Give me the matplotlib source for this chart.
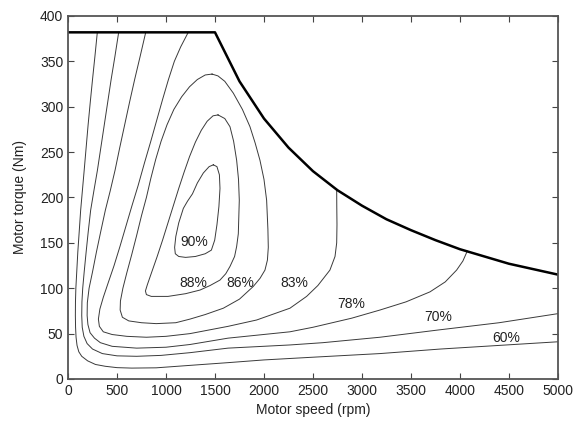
import numpy as np
import matplotlib
matplotlib.use("Agg")
import matplotlib.pyplot as plt

plt.rcParams['font.family'] = ['Liberation Sans', 'DejaVu Sans']

# torque envelope (constant torque, then constant power)
env_speed = [0, 1500, 1750, 2000, 2250, 2500, 2750, 3000, 3250, 3500, 3750, 4000, 4250, 4500, 4750, 5000]
env_torque = [382, 382, 328, 287, 255, 229, 208, 191, 176, 164, 153, 143, 135, 127, 121, 115]

# efficiency contours, (speed rpm, torque Nm)
c60 = [(299, 382), (275, 356), (250, 330), (227, 305), (205, 280), (185, 255), (165, 230), (147, 208),
       (129, 186), (114, 162), (100, 140), (89, 118), (80, 100), (76, 85), (75, 70), (77, 57),
       (82, 46), (92, 37), (110, 30), (140, 25), (200, 20), (280, 16), (380, 14), (500, 12.5),
       (650, 12), (900, 12.3), (1245, 15), (1633, 18), (2000, 21), (2500, 24), (3184, 28),
       (3800, 33), (4400, 37), (5000, 41)]
c70 = [(517, 382), (478, 355), (440, 330), (405, 305), (370, 280), (335, 255), (300, 230), (265, 208),
       (231, 186), (206, 162), (185, 140), (165, 118), (150, 100), (142, 85), (140, 70), (145, 57),
       (162, 47), (195, 39), (250, 33), (350, 28), (500, 25.5), (700, 25), (950, 26), (1245, 29),
       (1633, 34), (2265, 37.5), (2600, 40), (3184, 46), (3779, 54), (4400, 62), (5000, 72)]
c78 = [(793, 382), (735, 355), (680, 330), (628, 305), (578, 280), (528, 255), (480, 230),
       (430, 207), (381, 186), (335, 163), (290, 140), (250, 118), (215, 100), (197, 84), (195, 70),
       (203, 60), (225, 51), (270, 45), (330, 40), (450, 36), (700, 34), (1000, 35), (1245, 38),
       (1633, 45), (2265, 52), (2500, 57), (2895, 67), (3184, 76), (3450, 85), (3694, 96),
       (3850, 107), (3966, 120), (4030, 130), (4075, 141)]
c83 = [(1227, 382), (1150, 366), (1085, 350), (1025, 330), (965, 308), (905, 285), (845, 262),
       (780, 238), (715, 213), (650, 190), (590, 168), (530, 146), (470, 125), (410, 106),
       (360, 90), (325, 77), (310, 66), (320, 58), (360, 52), (450, 49), (600, 47), (800, 46),
       (1000, 47), (1245, 50), (1633, 58), (1925, 65), (2265, 78), (2435, 91), (2550, 103),
       (2673, 120), (2725, 135), (2742, 150), (2745, 170), (2743, 190), (2742, 209)]
c86 = [(1470, 336), (1400, 335), (1320, 330), (1240, 322), (1160, 311), (1080, 297), (1010, 280),
       (950, 262), (895, 242), (845, 221), (800, 200), (750, 180), (700, 158), (650, 137),
       (600, 117), (560, 100), (535, 86), (532, 76), (555, 68), (620, 64), (750, 62), (900, 61),
       (1100, 62), (1245, 66), (1400, 71), (1585, 78), (1750, 88), (1891, 102), (1960, 111),
       (2010, 120), (2035, 131), (2044, 145), (2040, 165), (2027, 197), (2000, 220), (1959, 241),
       (1910, 260), (1857, 278), (1780, 297), (1687, 315), (1600, 328), (1530, 334), (1470, 336)]
c88 = [(1531, 291), (1480, 290), (1420, 284), (1360, 274), (1300, 261), (1240, 245), (1185, 228),
       (1130, 210), (1075, 191), (1020, 172), (965, 153), (910, 135), (855, 118), (810, 104),
       (790, 97), (800, 93), (850, 91), (1020, 91), (1200, 94), (1347, 98), (1450, 103),
       (1551, 109), (1610, 116), (1653, 124), (1700, 135), (1721, 146), (1738, 160), (1748, 197),
       (1740, 220), (1721, 241), (1690, 262), (1653, 278), (1600, 287), (1531, 291)]
c90 = [(1483, 236), (1440, 234), (1381, 227), (1320, 216), (1270, 204), (1220, 196), (1177, 188),
       (1130, 172), (1100, 157), (1088, 145), (1095, 138), (1130, 135), (1200, 134), (1300, 135),
       (1400, 138), (1463, 142), (1497, 153), (1520, 170), (1540, 190), (1551, 210), (1545, 225),
       (1520, 234), (1483, 236)]
contours = [c60, c70, c78, c83, c86, c88, c90]

labels = ["90%", "88%", "86%", "83%", "78%", "70%", "60%"]
label_speed = [1286, 1276, 1755, 2306, 2895, 3779, 4476]
label_torque = [151, 106, 106, 106, 83, 68, 45]

fig = plt.figure(figsize=(5.74, 4.21), dpi=100)
ax = fig.add_axes([0.1185, 0.0998, 0.8535, 0.8622])

for c in contours:
    xs, ys = zip(*c)
    ax.plot(xs, ys, color="#3a3a3a", lw=0.7)

ax.plot(env_speed, env_torque, color="black", lw=1.8)

for lab, sx, ty in zip(labels, label_speed, label_torque):
    ax.text(sx, ty, lab, fontsize=10, ha="center", va="center", color="#222222")

ax.set_xlim(0, 5000)
ax.set_ylim(0, 400)
ax.set_xticks(np.arange(0, 5001, 500))
ax.set_yticks(np.arange(0, 401, 50))
ax.tick_params(direction="in", top=True, right=True, length=4, labelsize=10,
               colors="#444444", labelcolor="#222222")
for s in ax.spines.values():
    s.set_color("#555555")
    s.set_linewidth(1.3)
ax.set_xlabel("Motor speed (rpm)", fontsize=10, color="#222222", labelpad=4)
ax.set_ylabel("Motor torque (Nm)", fontsize=10, color="#222222", labelpad=9)

fig.savefig("out.png", dpi=100)
